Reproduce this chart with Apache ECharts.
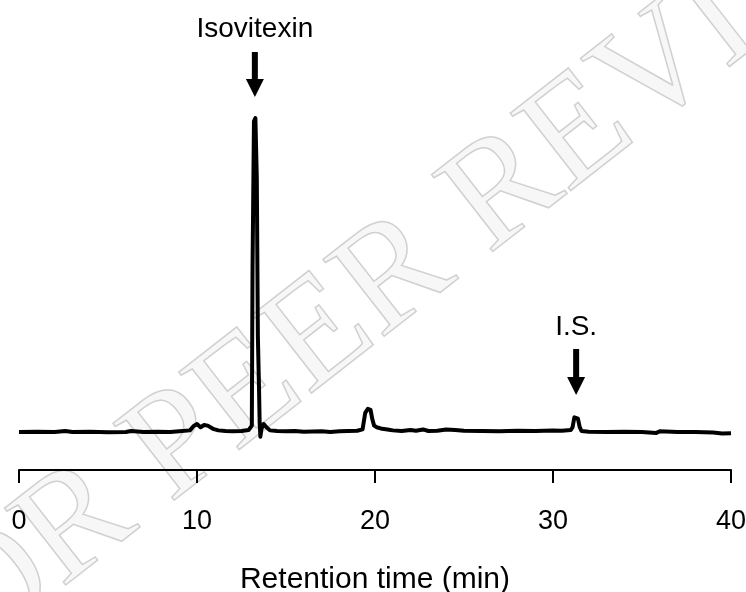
<!DOCTYPE html>
<html>
<head>
<meta charset="utf-8">
<script src="https://cdn.jsdelivr.net/npm/echarts@6/dist/echarts.min.js"></script>
<style>
html,body{margin:0;padding:0;background:#fff;}
#chart{width:746px;height:592px;}
</style>
</head>
<body>
<div id="chart"></div>
<script>
// Retention time (min) and detector signal (relative units)
var times = [0,1,2,2.6,3,4,5,6,6.3,7,7.8,8.5,9,9.6,9.8,10.0,10.2,10.4,10.6,10.9,11.2,11.6,12.0,12.5,12.9,13.0,13.08,13.12,13.2,13.28,13.36,13.42,13.48,13.52,13.56,13.62,13.75,13.9,14.1,14.5,15,15.5,16,17,17.5,18,18.5,19.0,19.3,19.45,19.6,19.75,19.85,19.95,20.1,20.4,20.7,21,21.5,22,22.3,22.7,23,23.5,24,24.5,25,26,27,28,29,30,30.5,31.0,31.1,31.2,31.3,31.4,31.5,31.6,32,33,34,35,35.8,36,37,38,39,39.5,40];
var signal = [0,0.1,0,0.3,0,0.1,-0.1,0,0.3,0,0.1,0,0.2,0.5,1.8,2.5,1.5,2.2,2.0,1.0,0.5,0.3,0.2,0.3,0.6,1.0,2,52,98,99,80,30,15,3,-1.5,1,2.5,1.5,0.5,0.3,0.2,0.3,0.1,0.2,0,0.2,0.3,0.4,0.8,6,7.3,7.0,4,2,1.5,1.0,0.8,0.5,0.3,0.6,0.4,0.8,0.3,0.4,0.8,0.6,0.4,0.3,0.2,0.4,0.3,0.5,0.4,0.6,1.5,4.6,4.8,4.2,1.5,0.3,0.1,0,0.1,0,-0.3,0.2,0,0,-0.2,-0.5,-0.4];
var xTicks = [0,10,20,30,40];
var peakLabels = ['Isovitexin','I.S.'];
var peakTimes = [13.25,31.3];

var data = times.map(function(t,i){return [t, signal[i]];});

var chart = echarts.init(document.getElementById('chart'));
var FONT = '"Liberation Sans", Arial, sans-serif';
chart.setOption({
  animation:false,
  backgroundColor:'#fff',
  grid:{left:19,right:15,top:115,bottom:122,containLabel:false,outerBoundsMode:'none'},
  xAxis:{
    type:'value', min:xTicks[0], max:xTicks[xTicks.length-1], interval:10,
    name:'Retention time (min)', nameLocation:'middle', nameGap:95,
    nameTextStyle:{color:'#000',fontSize:30,fontFamily:FONT},
    axisLine:{show:true,onZero:false,lineStyle:{color:'#000',width:2}},
    axisTick:{show:true,inside:false,length:13,lineStyle:{color:'#000',width:2}},
    axisLabel:{color:'#000',fontSize:27,fontFamily:FONT,margin:38},
    splitLine:{show:false}
  },
  yAxis:{type:'value',min:-12,max:100,show:false,splitLine:{show:false}},
  series:[{
    type:'line', data:data, showSymbol:false, symbol:'none', smooth:false,
    lineStyle:{color:'#000',width:4,join:'round'}, z:5
  }]
});

// annotations: labels and arrows above peaks
var textY = [29, 327];
var shaftTop = [52, 349];
var headTop = [79, 377];
var tipY = [97, 395];
var g = [{
  type:'text', x:405, y:270, rotation:38*Math.PI/180, z:-1, silent:true,
  style:{text:'FOR PEER REVIEW', font:'150px "Liberation Serif", serif',
    fill:'rgba(0,0,0,0.03)', stroke:'#d4d4d4', lineWidth:1.5,
    align:'center', verticalAlign:'middle'}
}];
peakLabels.forEach(function(lbl,i){
  var px = chart.convertToPixel({xAxisIndex:0}, peakTimes[i]);
  g.push({type:'text', x:px, y:textY[i], z:10,
    style:{text:lbl, font:'28px "Liberation Sans", Arial, sans-serif', fill:'#000', align:'center', verticalAlign:'middle'}});
  g.push({type:'rect', z:10, shape:{x:px-3, y:shaftTop[i], width:6, height:headTop[i]-shaftTop[i]+1}, style:{fill:'#000'}});
  g.push({type:'polygon', z:10, shape:{points:[[px-9,headTop[i]],[px+9,headTop[i]],[px,tipY[i]]]}, style:{fill:'#000'}});
});
chart.setOption({graphic:g});
</script>
</body>
</html>
